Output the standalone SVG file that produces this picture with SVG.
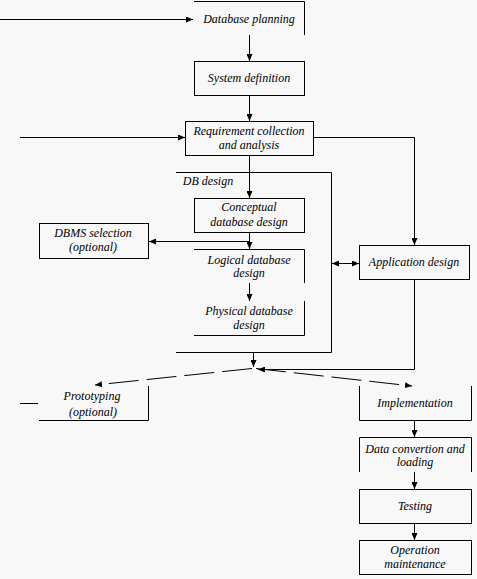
<svg xmlns="http://www.w3.org/2000/svg" width="477" height="579" viewBox="0 0 477 579">
<defs>
<marker id="ah" markerUnits="userSpaceOnUse" markerWidth="7" markerHeight="6" refX="7" refY="3" orient="auto">
<path d="M0,0 L7,3 L0,6 z" fill="#000"/>
</marker>
<marker id="ahs" markerUnits="userSpaceOnUse" markerWidth="7" markerHeight="6" refX="0" refY="3" orient="auto">
<path d="M7,0 L0,3 L7,6 z" fill="#000"/>
</marker>
</defs>
<style>
.b{fill:none;stroke:#000;stroke-width:1}
.c{fill:none;stroke:#000;stroke-width:1}
.d{fill:none;stroke:#000;stroke-width:1;stroke-dasharray:30 8}
.t text{font-family:'Liberation Serif','Times New Roman',serif;font-style:italic;font-size:12px;fill:#000;text-anchor:middle}
</style>
<rect width="477" height="579" fill="#f8f8f8"/>
<g id="connectors">
<path class="c" d="M0,19.5 H193" marker-end="url(#ah)"/>
<path class="c" d="M249.5,35 V61" marker-end="url(#ah)"/>
<path class="c" d="M249.5,95 V121" marker-end="url(#ah)"/>
<path class="c" d="M20,137.5 H185" marker-end="url(#ah)"/>
<path class="c" d="M249.5,155 V198" marker-end="url(#ah)"/>
<path class="c" d="M313,137.5 H414.5 V245" marker-end="url(#ah)"/>
<path class="c" d="M249.5,232 V249" marker-end="url(#ah)"/>
<path class="c" d="M249.5,241.5 H149" marker-end="url(#ah)"/>
<path class="c" d="M249.5,283 V301" marker-end="url(#ah)"/>
<path class="c" d="M332,263.5 H359" marker-start="url(#ahs)" marker-end="url(#ah)"/>
<path class="c" d="M253.5,352 V367" marker-end="url(#ah)"/>
<path class="c" d="M414.5,279 V369.5 H258" marker-end="url(#ah)"/>
<path class="d" d="M256,368.5 L412,386" marker-end="url(#ah)"/>
<path class="d" d="M252,368.5 L95,385" marker-end="url(#ah)"/>
<path class="c" d="M414.5,420 V437" marker-end="url(#ah)"/>
<path class="c" d="M414.5,472 V489" marker-end="url(#ah)"/>
<path class="c" d="M414.5,523 V540" marker-end="url(#ah)"/>
<path class="c" d="M20,403.5 H38"/>
</g>
<g class="t" font-family="'Liberation Serif', 'Times New Roman', serif">
<g id="db-planning">
<path class="b" d="M194,1.5 H304.5 V35"/>
<text x="249" y="23">Database planning</text>
</g>
<g id="system-definition">
<rect class="b" x="194.5" y="61.5" width="110" height="34"/>
<text x="249" y="82">System definition</text>
</g>
<g id="requirement">
<rect class="b" x="185.5" y="121.5" width="128" height="34"/>
<text x="249" y="135">Requirement collection</text>
<text x="249" y="149">and analysis</text>
</g>
<g id="db-design">
<path class="b" d="M176,172.5 H331.5 V352.5 H176"/>
<text x="208" y="185">DB design</text>
</g>
<g id="conceptual">
<rect class="b" x="194.5" y="198.5" width="110" height="34"/>
<text x="249" y="211">Conceptual</text>
<text x="249" y="226">database design</text>
</g>
<g id="logical">
<path class="b" d="M194,249.5 H304.5 V283"/>
<text x="249" y="264">Logical database</text>
<text x="249" y="277">design</text>
</g>
<g id="physical">
<path class="b" d="M304.5,301 V335.5 H194"/>
<text x="249" y="315">Physical database</text>
<text x="249" y="329">design</text>
</g>
<g id="dbms-selection">
<rect class="b" x="39.5" y="223.5" width="109" height="35"/>
<text x="93" y="237">DBMS selection</text>
<text x="93" y="251">(optional)</text>
</g>
<g id="application-design">
<rect class="b" x="359.5" y="245.5" width="110" height="34"/>
<text x="414" y="266">Application design</text>
</g>
<g id="prototyping">
<path class="b" d="M148.5,386 V420.5 H39"/>
<text x="92" y="400">Prototyping</text>
<text x="93" y="416">(optional)</text>
</g>
<g id="implementation">
<path class="b" d="M359.5,386 V420.5 H471.5 V386"/>
<text x="415" y="407">Implementation</text>
</g>
<g id="data-conversion">
<path class="b" d="M359.5,472 V437.5 H471.5 V472"/>
<text x="415" y="453">Data convertion and</text>
<text x="415" y="466">loading</text>
</g>
<g id="testing">
<rect class="b" x="359.5" y="489.5" width="112" height="34"/>
<text x="415" y="510">Testing</text>
</g>
<g id="operation">
<rect class="b" x="359.5" y="540.5" width="112" height="34"/>
<text x="415" y="554">Operation</text>
<text x="415" y="568">maintenance</text>
</g>
</g>
</svg>
